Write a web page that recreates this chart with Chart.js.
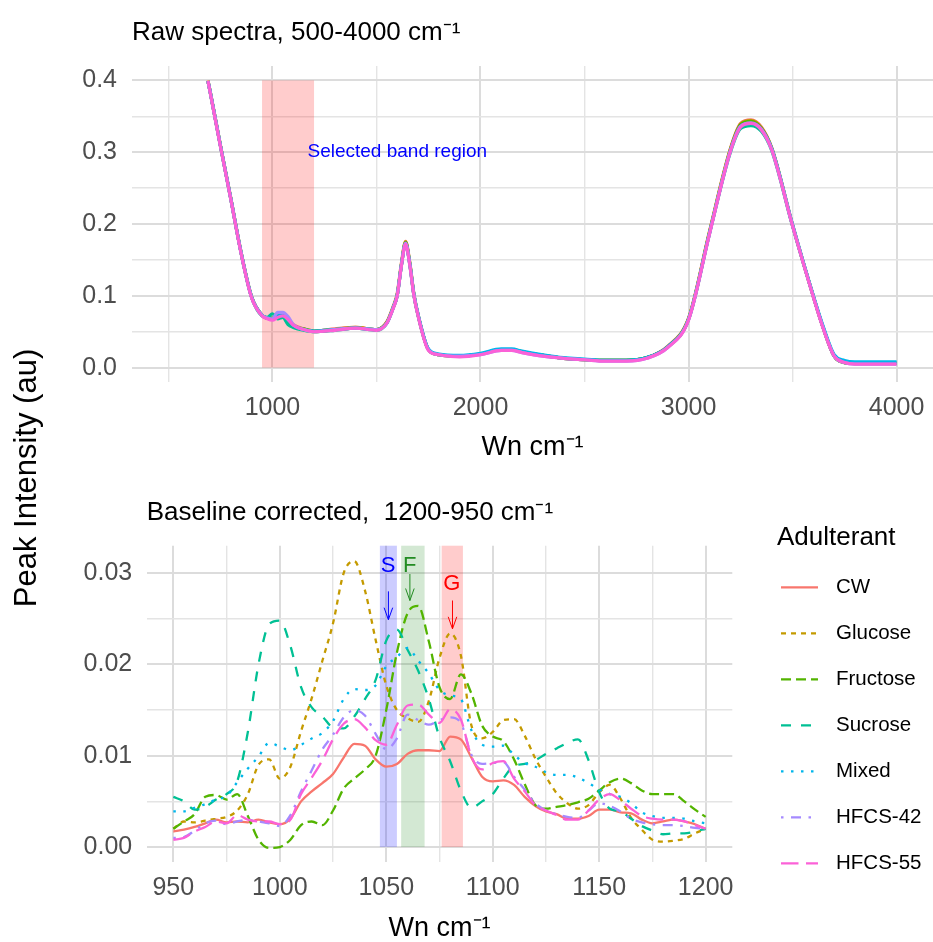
<!DOCTYPE html>
<html>
<head>
<meta charset="utf-8">
<script src="https://cdn.jsdelivr.net/npm/chart.js@4.4.1/dist/chart.umd.min.js"></script>
<style>
  html, body { margin: 0; padding: 0; background: #fff; overflow: hidden; }
  #wrap { position: relative; width: 933px; height: 942px; }
  #rawChart { position: absolute; left: 0; top: 0; }
  #bcChart { position: absolute; left: 0; top: 470px; }
</style>
</head>
<body>
<div id="wrap">
  <canvas id="rawChart" width="933" height="942"></canvas>
  <canvas id="bcChart" width="933" height="480"></canvas>
</div>
<script>
Chart.defaults.font.family = "'Liberation Sans', Arial, sans-serif";
Chart.defaults.color = "#4D4D4D";

// ---- data: raw spectra (top panel) ----
const rawWn = [690, 700, 750, 800, 850, 900, 950, 975, 1000, 1025, 1050, 1075, 1100,
  1150, 1200, 1300, 1400, 1500, 1550, 1580, 1600, 1620, 1640, 1660, 1680, 1700,
  1750, 1800, 1900, 2000, 2100, 2150, 2200, 2300, 2400, 2500, 2600, 2700, 2800, 2900,
  3000, 3100, 3200, 3250, 3300, 3350, 3400, 3500, 3600, 3650, 3700, 3750, 3800, 3900, 4000];

const rawCW = [0.400, 0.386, 0.310, 0.236, 0.160, 0.099, 0.073, 0.069, 0.067, 0.071, 0.073, 0.068, 0.060,
  0.054, 0.051, 0.054, 0.056, 0.053, 0.064, 0.085, 0.104, 0.146, 0.176, 0.147, 0.103, 0.074,
  0.025, 0.018, 0.016, 0.019, 0.025, 0.025, 0.022, 0.017, 0.013, 0.011, 0.010, 0.010, 0.014, 0.030,
  0.069, 0.189, 0.304, 0.340, 0.345, 0.335, 0.306, 0.199, 0.099, 0.053, 0.016, 0.007, 0.006, 0.006, 0.006];
const rawGlucose = [0.399, 0.385, 0.309, 0.235, 0.159, 0.098, 0.073, 0.069, 0.067, 0.072, 0.074, 0.067, 0.059,
  0.053, 0.050, 0.053, 0.056, 0.053, 0.063, 0.084, 0.102, 0.144, 0.175, 0.146, 0.102, 0.073,
  0.025, 0.018, 0.016, 0.019, 0.025, 0.025, 0.022, 0.017, 0.013, 0.011, 0.010, 0.010, 0.014, 0.029,
  0.068, 0.188, 0.303, 0.339, 0.344, 0.334, 0.305, 0.198, 0.099, 0.053, 0.016, 0.007, 0.006, 0.006, 0.006];
const rawFructose = [0.399, 0.385, 0.309, 0.235, 0.159, 0.098, 0.073, 0.069, 0.069, 0.071, 0.072, 0.066, 0.058,
  0.054, 0.051, 0.053, 0.055, 0.053, 0.063, 0.083, 0.101, 0.143, 0.174, 0.145, 0.101, 0.073,
  0.025, 0.018, 0.016, 0.019, 0.025, 0.025, 0.022, 0.017, 0.013, 0.011, 0.010, 0.010, 0.014, 0.029,
  0.068, 0.187, 0.302, 0.338, 0.343, 0.333, 0.305, 0.198, 0.099, 0.053, 0.016, 0.007, 0.006, 0.006, 0.006];
const rawSucrose = [0.399, 0.385, 0.309, 0.235, 0.159, 0.098, 0.072, 0.070, 0.075, 0.068, 0.070, 0.060, 0.056,
  0.052, 0.050, 0.052, 0.055, 0.052, 0.062, 0.083, 0.101, 0.143, 0.173, 0.144, 0.101, 0.073,
  0.025, 0.018, 0.016, 0.019, 0.025, 0.025, 0.022, 0.017, 0.013, 0.011, 0.010, 0.010, 0.014, 0.029,
  0.067, 0.186, 0.299, 0.333, 0.337, 0.329, 0.302, 0.197, 0.099, 0.053, 0.016, 0.007, 0.006, 0.006, 0.006];
const rawMixed = [0.399, 0.385, 0.309, 0.235, 0.159, 0.098, 0.073, 0.069, 0.067, 0.072, 0.073, 0.067, 0.059,
  0.053, 0.051, 0.053, 0.055, 0.053, 0.062, 0.083, 0.101, 0.143, 0.173, 0.145, 0.102, 0.074,
  0.026, 0.019, 0.017, 0.020, 0.026, 0.026, 0.023, 0.018, 0.014, 0.012, 0.010, 0.010, 0.014, 0.029,
  0.067, 0.186, 0.301, 0.336, 0.340, 0.332, 0.305, 0.199, 0.100, 0.055, 0.018, 0.010, 0.008, 0.008, 0.008];
const rawHFCS42 = [0.399, 0.385, 0.309, 0.235, 0.159, 0.098, 0.073, 0.069, 0.068, 0.077, 0.077, 0.071, 0.060,
  0.053, 0.050, 0.053, 0.055, 0.053, 0.062, 0.083, 0.101, 0.143, 0.173, 0.144, 0.101, 0.073,
  0.025, 0.018, 0.016, 0.018, 0.024, 0.024, 0.021, 0.016, 0.013, 0.011, 0.009, 0.009, 0.013, 0.028,
  0.067, 0.186, 0.301, 0.336, 0.341, 0.332, 0.304, 0.198, 0.099, 0.053, 0.016, 0.007, 0.005, 0.005, 0.005];
const rawHFCS55 = [0.399, 0.384, 0.308, 0.234, 0.158, 0.097, 0.072, 0.068, 0.066, 0.070, 0.072, 0.067, 0.059,
  0.053, 0.050, 0.052, 0.055, 0.052, 0.062, 0.082, 0.100, 0.142, 0.172, 0.143, 0.100, 0.072,
  0.024, 0.018, 0.015, 0.018, 0.024, 0.024, 0.021, 0.016, 0.013, 0.011, 0.009, 0.009, 0.013, 0.028,
  0.066, 0.185, 0.300, 0.335, 0.340, 0.331, 0.303, 0.197, 0.098, 0.052, 0.016, 0.007, 0.005, 0.005, 0.005];

// ---- data: baseline corrected, 950-1200 (bottom panel) ----
const bcWn = [950, 955, 960, 965, 970, 975, 980, 985, 990, 995,
  1000, 1005, 1010, 1015, 1020, 1025, 1030, 1035, 1040, 1045,
  1050, 1055, 1060, 1065, 1070, 1075, 1080, 1085, 1090, 1095,
  1100, 1105, 1110, 1115, 1120, 1125, 1130, 1135, 1140, 1145,
  1150, 1155, 1160, 1165, 1170, 1175, 1180, 1185, 1190, 1195, 1200];

const bcCW = [0.0017, 0.0019, 0.0022, 0.0026, 0.0030, 0.0027, 0.0028, 0.0027, 0.0030, 0.0027,
  0.0025, 0.0031, 0.0050, 0.0061, 0.0070, 0.0080, 0.0098, 0.0113, 0.0111, 0.0096,
  0.0088, 0.0091, 0.0102, 0.0106, 0.0106, 0.0105, 0.0121, 0.0118, 0.0098, 0.0077,
  0.0072, 0.0073, 0.0068, 0.0055, 0.0045, 0.0039, 0.0036, 0.0031, 0.0031, 0.0034,
  0.0041, 0.0041, 0.0038, 0.0037, 0.0030, 0.0026, 0.0028, 0.0030, 0.0028, 0.0025, 0.0020];
const bcGlucose = [0.0020, 0.0028, 0.0027, 0.0029, 0.0031, 0.0033, 0.0040, 0.0058, 0.0090, 0.0096,
  0.0075, 0.0088, 0.0127, 0.0163, 0.0204, 0.0245, 0.0300, 0.0313, 0.0281, 0.0227,
  0.0177, 0.0150, 0.0141, 0.0137, 0.0160, 0.0207, 0.0234, 0.0210, 0.0133, 0.0119,
  0.0126, 0.0139, 0.0140, 0.0122, 0.0097, 0.0077, 0.0059, 0.0048, 0.0042, 0.0046,
  0.0060, 0.0068, 0.0053, 0.0032, 0.0019, 0.0008, 0.0006, 0.0007, 0.0009, 0.0015, 0.0020];
const bcFructose = [0.0020, 0.0028, 0.0036, 0.0055, 0.0057, 0.0052, 0.0058, 0.0034, 0.0008, -0.0001,
  0.0000, 0.0008, 0.0024, 0.0028, 0.0024, 0.0040, 0.0064, 0.0075, 0.0085, 0.0100,
  0.0150, 0.0213, 0.0256, 0.0264, 0.0225, 0.0175, 0.0162, 0.0189, 0.0168, 0.0133,
  0.0121, 0.0116, 0.0096, 0.0069, 0.0046, 0.0042, 0.0044, 0.0046, 0.0049, 0.0053,
  0.0062, 0.0071, 0.0075, 0.0070, 0.0062, 0.0058, 0.0058, 0.0058, 0.0050, 0.0041, 0.0033];
const bcSucrose = [0.0055, 0.0050, 0.0041, 0.0044, 0.0052, 0.0058, 0.0072, 0.0126, 0.0200, 0.0244,
  0.0248, 0.0220, 0.0175, 0.0153, 0.0143, 0.0131, 0.0130, 0.0143, 0.0162, 0.0183,
  0.0226, 0.0238, 0.0216, 0.0193, 0.0162, 0.0120, 0.0094, 0.0062, 0.0043, 0.0050,
  0.0058, 0.0075, 0.0089, 0.0091, 0.0095, 0.0102, 0.0108, 0.0114, 0.0118, 0.0095,
  0.0060, 0.0042, 0.0039, 0.0031, 0.0023, 0.0018, 0.0014, 0.0015, 0.0015, 0.0017, 0.0020];
const bcMixed = [0.0039, 0.0039, 0.0043, 0.0047, 0.0052, 0.0056, 0.0071, 0.0086, 0.0099, 0.0114,
  0.0110, 0.0106, 0.0112, 0.0119, 0.0125, 0.0138, 0.0162, 0.0173, 0.0172, 0.0177,
  0.0198, 0.0208, 0.0218, 0.0204, 0.0190, 0.0172, 0.0166, 0.0162, 0.0128, 0.0112,
  0.0110, 0.0111, 0.0101, 0.0092, 0.0088, 0.0082, 0.0079, 0.0079, 0.0076, 0.0070,
  0.0063, 0.0058, 0.0055, 0.0048, 0.0038, 0.0034, 0.0032, 0.0032, 0.0031, 0.0028, 0.0026];
const bcHFCS42 = [0.0010, 0.0011, 0.0018, 0.0026, 0.0029, 0.0025, 0.0028, 0.0030, 0.0028, 0.0026,
  0.0023, 0.0035, 0.0061, 0.0084, 0.0107, 0.0123, 0.0142, 0.0150, 0.0144, 0.0124,
  0.0107, 0.0119, 0.0145, 0.0139, 0.0134, 0.0139, 0.0142, 0.0136, 0.0101, 0.0091,
  0.0092, 0.0093, 0.0077, 0.0063, 0.0048, 0.0040, 0.0036, 0.0033, 0.0032, 0.0040,
  0.0048, 0.0045, 0.0039, 0.0031, 0.0027, 0.0025, 0.0024, 0.0024, 0.0023, 0.0021, 0.0020];
const bcHFCS55 = [0.0008, 0.0010, 0.0017, 0.0022, 0.0028, 0.0026, 0.0035, 0.0030, 0.0028, 0.0028,
  0.0025, 0.0030, 0.0058, 0.0076, 0.0095, 0.0118, 0.0135, 0.0140, 0.0131, 0.0117,
  0.0112, 0.0134, 0.0155, 0.0156, 0.0145, 0.0136, 0.0151, 0.0140, 0.0099, 0.0085,
  0.0092, 0.0094, 0.0075, 0.0061, 0.0046, 0.0040, 0.0035, 0.0030, 0.0030, 0.0040,
  0.0052, 0.0058, 0.0051, 0.0042, 0.0034, 0.0031, 0.0030, 0.0030, 0.0028, 0.0024, 0.0020];

const adulterants = ["CW", "Glucose", "Fructose", "Sucrose", "Mixed", "HFCS-42", "HFCS-55"];
const rawSeries = [rawCW, rawGlucose, rawFructose, rawSucrose, rawMixed, rawHFCS42, rawHFCS55];
const bcSeries = [bcCW, bcGlucose, bcFructose, bcSucrose, bcMixed, bcHFCS42, bcHFCS55];

// ticks
const rawXTicks = [500, 1000, 1500, 2000, 2500, 3000, 3500, 4000];
const rawXLabels = [1000, 2000, 3000, 4000];
const rawYTicks = [0, 0.05, 0.1, 0.15, 0.2, 0.25, 0.3, 0.35, 0.4];
const rawYLabels = [0, 0.1, 0.2, 0.3, 0.4];
const bcXTicks = [950, 975, 1000, 1025, 1050, 1075, 1100, 1125, 1150, 1175, 1200];
const bcXLabels = [950, 1000, 1050, 1100, 1150, 1200];
const bcYTicks = [0, 0.005, 0.01, 0.015, 0.02, 0.025, 0.03];
const bcYLabels = [0, 0.01, 0.02, 0.03];

// annotations, in data units
const rawBands = [{ from: 950, to: 1200, bottom: 0, top: 0.4, fill: "rgba(255,0,0,0.2)" }];
const rawNotes = [{ x: 1600, y: 0.3, text: "Selected band region", color: "#0000FF", size: 19 }];
const bcBands = [
  { from: 1047, to: 1055, bottom: 0, top: Infinity, fill: "rgba(0,0,255,0.2)" },
  { from: 1057, to: 1068, bottom: 0, top: Infinity, fill: "rgba(34,139,34,0.2)" },
  { from: 1076, to: 1086, bottom: 0, top: Infinity, fill: "rgba(255,0,0,0.2)" }
];
const bcNotes = [
  { x: 1050.8, y: 0.0308, text: "S", color: "#0000FF", size: 22 },
  { x: 1061, y: 0.0308, text: "F", color: "#228B22", size: 22 },
  { x: 1080.8, y: 0.0288, text: "G", color: "#FF0000", size: 22 }
];
const bcArrows = [
  { x: 1051, from: 0.0280, to: 0.0249, color: "#0000FF" },
  { x: 1061.1, from: 0.0299, to: 0.0270, color: "#228B22" },
  { x: 1081.1, from: 0.0270, to: 0.0239, color: "#FF0000" }
];

// styles
const colours = ["#F8766D", "#C49A00", "#53B400", "#00C094", "#00B6EB", "#A58AFF", "#FB61D7"];
const dashes = [[], [5, 5], [10, 5], [10, 10], [2.5, 7.5], [2.5, 7.5, 10, 7.5], [17.5, 7.5]];
const FONT = "'Liberation Sans', Arial, sans-serif";

function gridFor(majors) {
  return {
    drawTicks: false,
    color: c => (c.tick && majors.includes(c.tick.value)) ? "#DCDCDC" : "#E4E4E4",
    lineWidth: c => (c.tick && majors.includes(c.tick.value)) ? 2 : 1.4
  };
}

function makeMarks(bands, notes, arrows) {
  return {
    id: "marks",
    beforeDatasetsDraw(chart) {
      const { ctx, chartArea, scales: { x, y } } = chart;
      ctx.save();
      bands.forEach(b => {
        const left = x.getPixelForValue(b.from);
        const right = x.getPixelForValue(b.to);
        const top = Math.max(y.getPixelForValue(b.top), chartArea.top);
        const bottom = y.getPixelForValue(b.bottom);
        ctx.fillStyle = b.fill;
        ctx.fillRect(left, top, right - left, bottom - top);
      });
      ctx.restore();
    },
    afterDatasetsDraw(chart) {
      const { ctx, scales: { x, y } } = chart;
      ctx.save();
      ctx.textAlign = "center";
      ctx.textBaseline = "middle";
      notes.forEach(n => {
        ctx.fillStyle = n.color;
        ctx.font = n.size + "px " + FONT;
        ctx.fillText(n.text, x.getPixelForValue(n.x), y.getPixelForValue(n.y));
      });
      arrows.forEach(a => {
        const px = x.getPixelForValue(a.x);
        const y0 = y.getPixelForValue(a.from);
        const y1 = y.getPixelForValue(a.to);
        ctx.strokeStyle = a.color;
        ctx.lineWidth = 1;
        ctx.beginPath();
        ctx.moveTo(px, y0);
        ctx.lineTo(px, y1);
        ctx.moveTo(px - 4.3, y1 - 12);
        ctx.lineTo(px, y1);
        ctx.lineTo(px + 4.3, y1 - 12);
        ctx.stroke();
      });
      ctx.restore();
    }
  };
}

// y title shared by both panels
const sharedYTitle = {
  id: "sharedYTitle",
  afterDraw(chart) {
    const ctx = chart.ctx;
    ctx.save();
    ctx.translate(27, 478);
    ctx.rotate(-Math.PI / 2);
    ctx.textAlign = "center";
    ctx.textBaseline = "middle";
    ctx.fillStyle = "#000";
    ctx.font = "31px " + FONT;
    ctx.fillText("Peak Intensity (au)", 0, 0);
    ctx.restore();
  }
};

// legend with line samples (dash patterns)
const adulterantLegend = {
  id: "adulterantLegend",
  afterDraw(chart) {
    const ctx = chart.ctx;
    ctx.save();
    ctx.textAlign = "left";
    ctx.textBaseline = "middle";
    ctx.fillStyle = "#000";
    ctx.font = "26px " + FONT;
    ctx.fillText("Adulterant", 777, 68);
    ctx.font = "20.5px " + FONT;
    chart.data.datasets.forEach((ds, i) => {
      const yy = 117.4 + i * 46;
      ctx.strokeStyle = ds.borderColor;
      ctx.lineWidth = ds.borderWidth;
      ctx.setLineDash(ds.borderDash);
      ctx.beginPath();
      ctx.moveTo(781, yy);
      ctx.lineTo(818, yy);
      ctx.stroke();
      ctx.setLineDash([]);
      ctx.fillText(ds.label, 836, yy);
    });
    ctx.restore();
  }
};

function xAxis(min, max, ticks, labels, height) {
  return {
    type: "linear", min, max,
    afterBuildTicks: s => { s.ticks = ticks.map(v => ({ value: v })); },
    afterFit: s => { s.height = height; s.paddingLeft = 0; s.paddingRight = 0; },
    ticks: {
      autoSkip: false, maxRotation: 0, padding: 11, color: "#4D4D4D", font: { size: 25 },
      callback: v => labels.includes(v) ? String(v) : ""
    },
    grid: gridFor(labels),
    border: { display: false },
    title: { display: true, text: "Wn cm⁻¹", color: "#000", font: { size: 27 }, padding: { top: 0, bottom: 0 } }
  };
}

function yAxis(min, max, ticks, labels, width, digits, pad) {
  return {
    min, max,
    afterBuildTicks: s => { s.ticks = ticks.map(v => ({ value: v })); },
    afterFit: s => { s.width = width; s.paddingTop = 0; s.paddingBottom = 0; },
    ticks: {
      autoSkip: false, padding: pad, color: "#4D4D4D", font: { size: 25 },
      callback: v => labels.includes(v) ? v.toFixed(digits) : ""
    },
    grid: gridFor(labels),
    border: { display: false }
  };
}

// top: raw spectra
new Chart(document.getElementById("rawChart"), {
  type: "line",
  data: {
    datasets: adulterants.map((name, i) => ({
      label: name,
      data: rawWn.map((x, k) => ({ x, y: rawSeries[i][k] })),
      borderColor: colours[i],
      borderWidth: 3.2,
      pointRadius: 0,
      fill: false,
      cubicInterpolationMode: "monotone",
      order: adulterants.length - 1 - i
    }))
  },
  options: {
    responsive: false,
    animation: false,
    events: [],
    layout: { padding: { left: 0, right: 0, top: 0, bottom: 477.8 } },
    plugins: {
      legend: { display: false },
      tooltip: { enabled: false },
      title: {
        display: true, text: "Raw spectra, 500-4000 cm⁻¹", align: "start", fullSize: false,
        color: "#000", font: { size: 26, weight: "normal" }, padding: { top: 17, bottom: 17.8 }
      }
    },
    scales: {
      x: xAxis(325, 4175, rawXTicks, rawXLabels, 82.2),
      y: yAxis(-0.02, 0.42, rawYTicks, rawYLabels, 132, 1, 15)
    }
  },
  plugins: [makeMarks(rawBands, rawNotes, []), sharedYTitle]
});

// bottom: baseline corrected
new Chart(document.getElementById("bcChart"), {
  type: "line",
  data: {
    datasets: adulterants.map((name, i) => ({
      label: name,
      data: bcWn.map((x, k) => ({ x, y: bcSeries[i][k] })),
      borderColor: colours[i],
      borderWidth: 2.3,
      borderDash: dashes[i],
      pointRadius: 0,
      fill: false,
      cubicInterpolationMode: "monotone",
      order: adulterants.length - 1 - i
    }))
  },
  options: {
    responsive: false,
    animation: false,
    events: [],
    layout: { padding: { left: 0, right: 200.7, top: 0, bottom: 5.1 } },
    plugins: {
      legend: { display: false },
      tooltip: { enabled: false },
      title: {
        display: true, text: "Baseline corrected,  1200-950 cm⁻¹", align: "start", fullSize: false,
        color: "#000", font: { size: 26, weight: "normal" }, padding: { top: 27, bottom: 17.5 }
      }
    },
    scales: {
      x: xAxis(937.5, 1212.5, bcXTicks, bcXLabels, 82.6),
      y: yAxis(-0.00167, 0.0330, bcYTicks, bcYLabels, 146.7, 2, 14.5)
    }
  },
  plugins: [makeMarks(bcBands, bcNotes, bcArrows), adulterantLegend]
});
</script>
</body>
</html>
